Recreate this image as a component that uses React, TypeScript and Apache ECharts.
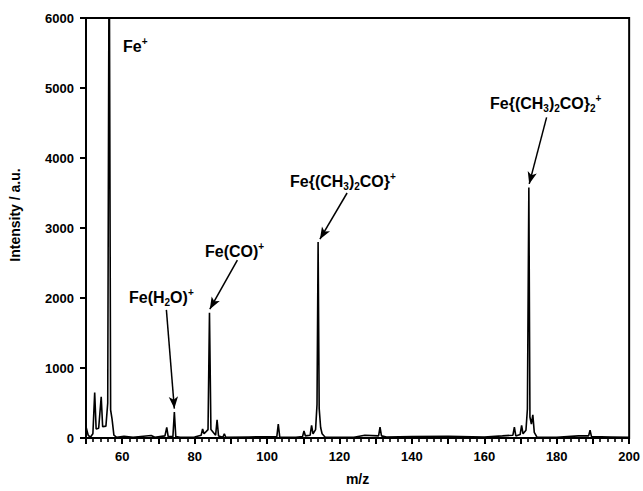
import React, { useEffect, useRef } from "react";
import * as echarts from "echarts";

// Spectrum trace: m/z and intensity (a.u.)
const traceMz = [
  50, 50.6, 51.2, 51.9, 52.4, 52.8, 53.5, 54.2, 54.6, 55.5, 56.0, 56.4, 56.8, 57.2, 57.7, 58.5,
  60.5, 63, 68, 69, 71.8, 72.3, 72.7, 74.0, 74.4, 74.8, 76, 80,
  81.8, 82.2, 82.6, 83.7, 84.1, 84.5, 85.8, 86.2, 86.6, 87.8, 88.2, 88.6, 95,
  102.7, 103.1, 103.5, 108, 109.8, 110.2, 110.6, 111.9, 112.3, 112.7, 113.4, 113.8, 114.1, 114.4,
  114.8, 115.2, 116, 124, 127, 130.8, 131.2, 131.6, 133, 140, 150, 160, 165,
  167.9, 168.3, 168.7, 169.9, 170.3, 170.7, 171.5, 171.9, 172.3, 172.6, 173.0, 173.4, 173.8, 174.5,
  180, 186, 188.8, 189.2, 189.6, 195, 200,
];
const traceIntensity = [
  160, 40, 10, 60, 650, 130, 140, 590, 160, 170, 500, 7500, 400, 270, 40, 10,
  25, 10, 35, 10, 30, 150, 20, 20, 370, 20, 10, 15,
  40, 130, 60, 120, 1790, 120, 40, 260, 30, 10, 60, 10, 15,
  20, 200, 15, 10, 20, 100, 30, 40, 180, 60, 120, 480, 2800, 420,
  150, 60, 15, 10, 40, 30, 155, 30, 15, 20, 25, 15, 30,
  40, 155, 30, 50, 180, 60, 110, 415, 3580, 300, 200, 330, 80, 15,
  10, 30, 30, 110, 20, 15, 10,
];

// Axis ticks
const xMin = 50;
const xMax = 200;
const xMajorStep = 10;
const xMinorStep = 2;
const xLabelled = [60, 80, 100, 120, 140, 160, 180, 200];
const yMax = 6000;
const yStep = 1000;

// Annotation arrows (data coordinates): from label to peak
const arrowFrom = [
  [72.2, 1830],
  [91.8, 2540],
  [122.1, 3500],
  [177.2, 4580],
];
const arrowTo = [
  [74.4, 420],
  [84.2, 1840],
  [114.6, 2840],
  [172.4, 3630],
];

// Annotation labels (rich text) and their pixel anchors
const labelTexts = [
  "Fe{sup|+}",
  "Fe(H{sub|2}O){sup|+}",
  "Fe(CO){sup|+}",
  "Fe{(CH{sub|3}){sub|2}CO}{sup|+}",
  "Fe{(CH{sub|3}){sub|2}CO}{sub|2}{sup|+}",
];
const labelPos = [
  [123, 46],
  [129, 297],
  [205, 251],
  [290, 181],
  [490, 103],
];

const FONT = '"Liberation Sans", Arial, Helvetica, sans-serif';

export default function App() {
  const ref = useRef<HTMLDivElement>(null);

  useEffect(() => {
    document.body.style.margin = "0";
    if (!ref.current) return;
    const chart = echarts.init(ref.current, undefined, { renderer: "svg" });

    const data = traceMz.map((m, i) => [m, traceIntensity[i]]);

    const rich = {
      sup: {
        fontSize: 10,
        fontWeight: "bold",
        fontFamily: FONT,
        fill: "#000",
        lineHeight: 10,
        verticalAlign: "top",
      },
      sub: {
        fontSize: 10,
        fontWeight: "bold",
        fontFamily: FONT,
        fill: "#000",
        lineHeight: 10,
        verticalAlign: "bottom",
      },
    };

    const labels = labelTexts.map((t, i) => ({
      type: "text",
      x: labelPos[i][0],
      y: labelPos[i][1],
      silent: true,
      style: {
        text: t,
        fill: "#000",
        fontSize: 16,
        fontWeight: "bold",
        fontFamily: FONT,
        lineHeight: 20,
        align: "left",
        verticalAlign: "middle",
        rich,
      },
    }));

    chart.setOption({
      animation: false,
      backgroundColor: "#fff",
      grid: {
        left: 86,
        right: 9,
        top: 18,
        bottom: 50,
        show: true,
        borderColor: "#000",
        borderWidth: 2,
        containLabel: false,
      },
      xAxis: [
        {
          type: "value",
          min: xMin,
          max: xMax,
          interval: xMajorStep,
          name: "m/z",
          nameLocation: "middle",
          nameGap: 34,
          nameTextStyle: {
            fontSize: 14,
            fontWeight: "bold",
            fontFamily: FONT,
            color: "#000",
          },
          axisLine: { show: true, lineStyle: { color: "#000", width: 2 } },
          axisTick: { show: true, inside: false, length: 6, lineStyle: { color: "#000", width: 2 } },
          splitLine: { show: false },
          axisLabel: {
            margin: 12,
            fontSize: 13,
            fontWeight: "bold",
            fontFamily: FONT,
            color: "#000",
            formatter: (v: number) => (xLabelled.includes(v) ? String(v) : ""),
          },
        },
        {
          type: "value",
          position: "bottom",
          min: xMin,
          max: xMax,
          interval: xMinorStep,
          axisLine: { show: false },
          axisTick: { show: true, inside: false, length: 4, lineStyle: { color: "#000", width: 1.6 } },
          axisLabel: { show: false },
          splitLine: { show: false },
        },
      ],
      yAxis: {
        type: "value",
        min: 0,
        max: yMax,
        interval: yStep,
        axisLine: { show: true, lineStyle: { color: "#000", width: 2 } },
        axisTick: { show: true, inside: false, length: 6, lineStyle: { color: "#000", width: 2 } },
        splitLine: { show: false },
        axisLabel: {
          margin: 12,
          fontSize: 13,
          fontWeight: "bold",
          fontFamily: FONT,
          color: "#000",
          formatter: (v: number) => String(v),
        },
      },
      graphic: [
        {
          type: "text",
          x: 15,
          y: 215,
          rotation: Math.PI / 2,
          silent: true,
          style: {
            text: "Intensity / a.u.",
            fill: "#000",
            fontSize: 14,
            fontWeight: "bold",
            fontFamily: FONT,
            align: "center",
            verticalAlign: "middle",
          },
        },
        ...labels,
      ],
      series: [
        {
          type: "line",
          xAxisIndex: 0,
          data,
          showSymbol: false,
          symbol: "none",
          clip: true,
          lineStyle: { color: "#000", width: 1.6 },
          markLine: {
            silent: true,
            symbol: ["none", "arrow"],
            symbolSize: [7, 12],
            label: { show: false },
            lineStyle: { color: "#000", width: 1.5, type: "solid" },
            data: arrowFrom.map((f, i) => [{ coord: f }, { coord: arrowTo[i] }]),
          },
        },
      ],
    });

    return () => chart.dispose();
  }, []);

  return <div ref={ref} style={{ width: 643, height: 491 }} />;
}
